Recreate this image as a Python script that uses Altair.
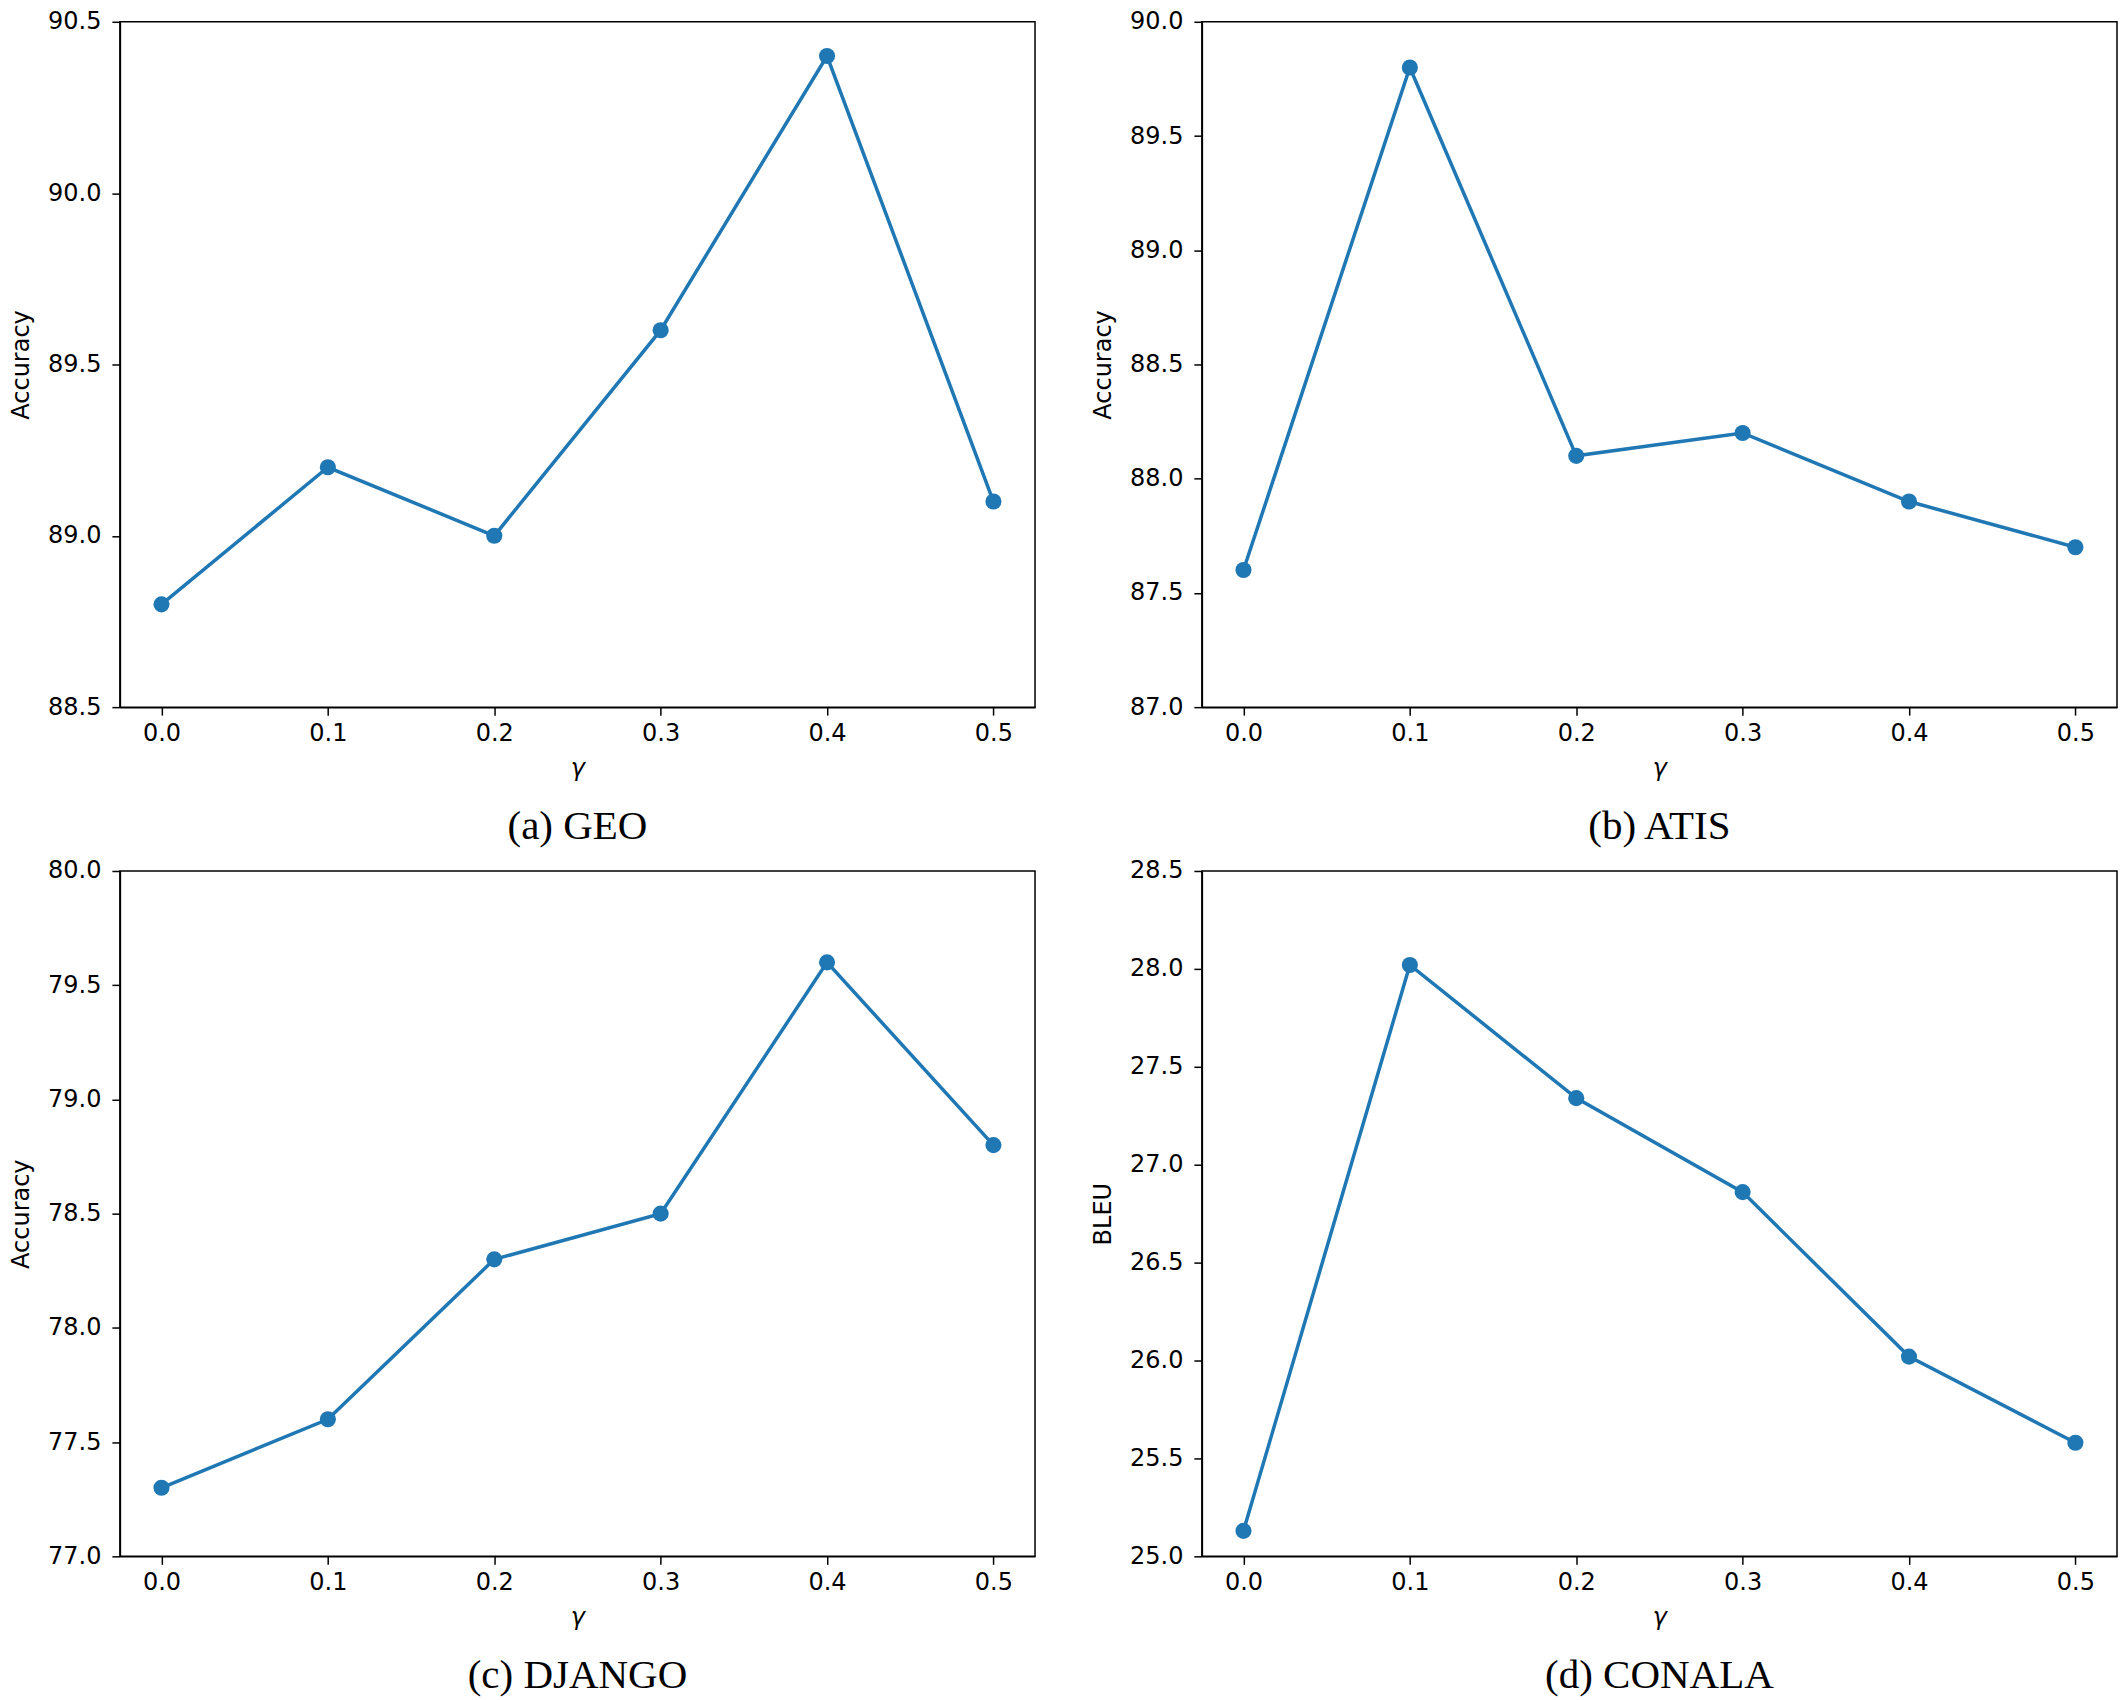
import altair as alt
import pandas as pd

gamma = [0.0, 0.1, 0.2, 0.3, 0.4, 0.5]
geo = [88.8, 89.2, 89.0, 89.6, 90.4, 89.1]
atis = [87.6, 89.8, 88.1, 88.2, 87.9, 87.7]
django = [77.3, 77.6, 78.3, 78.5, 79.6, 78.8]
conala = [25.13, 28.02, 27.34, 26.86, 26.02, 25.58]

titles = ["(a) GEO", "(b) ATIS", "(c) DJANGO", "(d) CONALA"]
ylabels = ["Accuracy", "Accuracy", "Accuracy", "BLEU"]
ydomains = [[88.5, 90.5], [87.0, 90.0], [77.0, 80.0], [25.0, 28.5]]
series = [geo, atis, django, conala]

BLUE = "#1f77b4"
W, H = 916, 686


def panel(vals, title, ylabel, ydom):
    df = pd.DataFrame({"gamma": gamma, "value": vals})
    ticks = []
    v = ydom[0]
    while v <= ydom[1] + 1e-9:
        ticks.append(round(v, 1))
        v += 0.5
    base = alt.Chart(df).encode(
        x=alt.X("gamma:Q",
                scale=alt.Scale(domain=[-0.025, 0.525], nice=False, zero=False),
                axis=alt.Axis(values=gamma, format=".1f", title="γ",
                              titleFontStyle="italic", titlePadding=11,
                              labelPadding=6)),
        y=alt.Y("value:Q",
                scale=alt.Scale(domain=ydom, nice=False, zero=False),
                axis=alt.Axis(values=ticks, format=".1f", title=ylabel,
                              titlePadding=14, labelPadding=11)),
    )
    line = base.mark_line(color=BLUE, strokeWidth=3.5)
    pts = base.mark_circle(color=BLUE, size=260, opacity=1)
    return alt.layer(line, pts).properties(
        width=W, height=H,
        title=alt.TitleParams(text=title, orient="bottom", anchor="middle",
                              font="Liberation Serif", fontSize=41,
                              fontWeight="normal", color="black", offset=27),
    )


p = [panel(series[i], titles[i], ylabels[i], ydomains[i]) for i in range(4)]

chart = alt.vconcat(
    alt.hconcat(p[0], p[1], spacing=54),
    alt.hconcat(p[2], p[3], spacing=54),
    spacing=10,
).properties(
    padding={"left": 0, "top": 0, "right": 0, "bottom": 0},
    background="white",
).configure_view(
    stroke="black", strokeWidth=1.5
).configure_axis(
    grid=False,
    domainColor="black", domainWidth=1.5,
    tickColor="black", tickWidth=1.5, tickSize=8,
    labelColor="black", titleColor="black",
    labelFont="DejaVu Sans", titleFont="DejaVu Sans",
    labelFontSize=24, titleFontSize=24, titleFontWeight="normal",
)

chart.save("out.html", embed_options={"renderer": "svg", "actions": False})
